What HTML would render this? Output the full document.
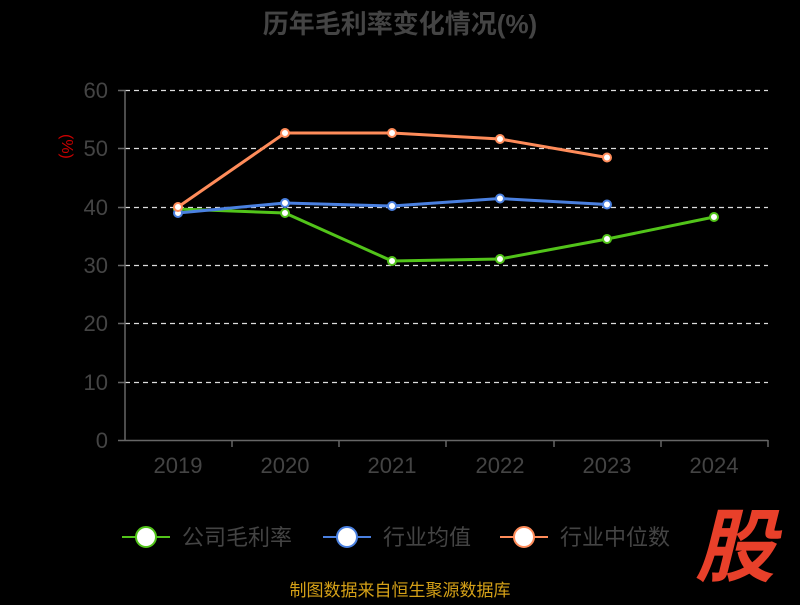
<!DOCTYPE html>
<html><head><meta charset="utf-8"><style>
body{margin:0;background:#000;width:800px;height:600px;overflow:hidden;font-family:"Liberation Sans","Noto Sans CJK SC",sans-serif}
</style></head><body>
<svg width="800" height="600" xmlns="http://www.w3.org/2000/svg" font-family="Liberation Sans, Noto Sans CJK SC, sans-serif">
<rect width="800" height="600" fill="#000"/>
<text x="400" y="33" text-anchor="middle" font-size="26" font-weight="bold" fill="#444">历年毛利率变化情况(%)</text>
<text x="70" y="126" fill="#c00" font-size="16" transform="rotate(90 62 126)">(%)</text>
<g stroke="#ddd" stroke-dasharray="5,4" stroke-width="1.2">
<line x1="125" x2="768" y1="90.5" y2="90.5"/><line x1="125" x2="768" y1="148.5" y2="148.5"/>
<line x1="125" x2="768" y1="207.5" y2="207.5"/><line x1="125" x2="768" y1="265.5" y2="265.5"/>
<line x1="125" x2="768" y1="323.5" y2="323.5"/><line x1="125" x2="768" y1="382.5" y2="382.5"/>
</g>
<g stroke="#666" stroke-width="1.5">
<line x1="125" x2="125" y1="90" y2="440"/><line x1="125" x2="768" y1="440.5" y2="440.5"/>
<line x1="118" x2="125" y1="90.5" y2="90.5"/><line x1="118" x2="125" y1="148.5" y2="148.5"/><line x1="118" x2="125" y1="207.5" y2="207.5"/><line x1="118" x2="125" y1="265.5" y2="265.5"/><line x1="118" x2="125" y1="323.5" y2="323.5"/><line x1="118" x2="125" y1="382.5" y2="382.5"/><line x1="118" x2="125" y1="440.5" y2="440.5"/>
<line x1="232" x2="232" y1="440" y2="447"/><line x1="339" x2="339" y1="440" y2="447"/><line x1="446" x2="446" y1="440" y2="447"/><line x1="554" x2="554" y1="440" y2="447"/><line x1="661" x2="661" y1="440" y2="447"/><line x1="768" x2="768" y1="440" y2="447"/>
</g>
<g fill="#444" font-size="22" text-anchor="end">
<text x="108" y="98">60</text><text x="108" y="156">50</text><text x="108" y="215">40</text><text x="108" y="273">30</text><text x="108" y="331">20</text><text x="108" y="390">10</text><text x="108" y="448">0</text>
</g>
<g fill="#444" font-size="22" text-anchor="middle">
<text x="178" y="473">2019</text><text x="285" y="473">2020</text><text x="392" y="473">2021</text><text x="500" y="473">2022</text><text x="607" y="473">2023</text><text x="714" y="473">2024</text>
</g>
<polyline fill="none" stroke="#52c41a" stroke-width="3" points="178,209 285,213 392,261 500,259 607,239 714,217"/>
<polyline fill="none" stroke="#4a80e0" stroke-width="3" points="178,213 285,203 392,206 500,198.5 607,204.5"/>
<polyline fill="none" stroke="#ff8c5a" stroke-width="3" points="178,207 285,133 392,133 500,139 607,157.5"/>
<g fill="#fff" stroke-width="2">
<g stroke="#52c41a"><circle cx="178" cy="209" r="4"/><circle cx="285" cy="213" r="4"/><circle cx="392" cy="261" r="4"/><circle cx="500" cy="259" r="4"/><circle cx="607" cy="239" r="4"/><circle cx="714" cy="217" r="4"/></g>
<g stroke="#4a80e0"><circle cx="178" cy="213" r="4"/><circle cx="285" cy="203" r="4"/><circle cx="392" cy="206" r="4"/><circle cx="500" cy="198.5" r="4"/><circle cx="607" cy="204.5" r="4"/></g>
<g stroke="#ff8c5a"><circle cx="178" cy="207" r="4"/><circle cx="285" cy="133" r="4"/><circle cx="392" cy="133" r="4"/><circle cx="500" cy="139" r="4"/><circle cx="607" cy="157.5" r="4"/></g>
</g>
<g font-size="22" fill="#444">
<line x1="122" x2="170" y1="537" y2="537" stroke="#52c41a" stroke-width="2"/><circle cx="146" cy="537" r="10" fill="#fff" stroke="#52c41a" stroke-width="2"/><text x="182" y="545">公司毛利率</text>
<line x1="323" x2="371" y1="537" y2="537" stroke="#4a80e0" stroke-width="2"/><circle cx="347" cy="537" r="10" fill="#fff" stroke="#4a80e0" stroke-width="2"/><text x="383" y="545">行业均值</text>
<line x1="500" x2="548" y1="537" y2="537" stroke="#ff8c5a" stroke-width="2"/><circle cx="524" cy="537" r="10" fill="#fff" stroke="#ff8c5a" stroke-width="2"/><text x="560" y="545">行业中位数</text>
</g>
<text x="735" y="575" text-anchor="middle" font-size="80" font-weight="bold" fill="#e8402a" font-style="italic">股</text>
<text x="400" y="596" text-anchor="middle" font-size="17" fill="#d4a017">制图数据来自恒生聚源数据库</text>
</svg>
</body></html>
